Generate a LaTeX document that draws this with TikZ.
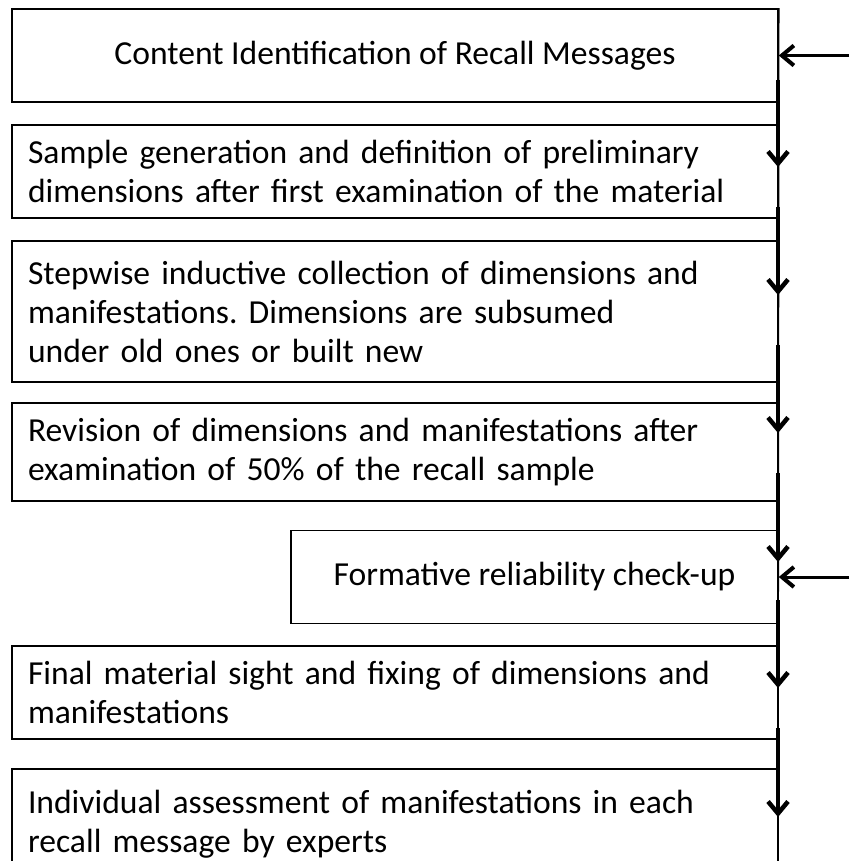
\documentclass[tikz,border=0pt]{standalone}
\usepackage{fontspec}
\setmainfont{Carlito}
\usetikzlibrary{arrows.meta}
\frenchspacing
\tikzset{
  box/.style={draw, line width=1.5pt, minimum width=766pt, minimum height=93pt,
    inner xsep=16pt, inner ysep=0pt, font=\fontsize{33.6}{39}\selectfont},
  lbox/.style={box, text width=734pt, align=left},
  trunk/.style={line width=1.5pt},
  flow/.style={line width=4pt, -{Straight Barb[length=12pt,width=20pt,line width=4.5pt]}},
  feed/.style={line width=3pt, -{Straight Barb[length=12pt,width=20pt,line width=4pt]}}
}
\begin{document}
\begin{tikzpicture}[x=1pt,y=-1pt]
\useasboundingbox (0,0) rectangle (849,861);
\begin{scope}
\clip (0,0) rectangle (849,861);
\node[box] (b1) at (395,55.5) {Content Identification of Recall Messages};
\node[lbox] (b2) at (395,171.5) {Sample generation and definition of preliminary\\dimensions after first examination of the material};
\node[lbox, minimum height=141pt] (b3) at (395,311.5) {Stepwise inductive collection of dimensions and\\manifestations. Dimensions are subsumed\\under old ones or built new};
\node[lbox, minimum height=98pt] (b4) at (395,452) {Revision of dimensions and manifestations after\\examination of 50\% of the recall sample};
\node[box, minimum width=487pt] (b5) at (534.5,577) {Formative reliability check-up};
\node[lbox, minimum height=110pt] (b7) at (395,824) {Individual assessment of manifestations in each\\recall message by experts};
\node[lbox] (b6) at (395,692.5) {Final material sight and fixing of dimensions and\\manifestations};
\coordinate (bottom) at (778,861);
\draw[trunk] (b1.north east) -- (bottom);
\coordinate (s1) at (778,80);  \coordinate (t1) at (778,167);
\coordinate (s2) at (778,207); \coordinate (t2) at (778,295);
\coordinate (s3) at (778,345); \coordinate (t3) at (778,433);
\coordinate (s4) at (778,473); \coordinate (t4) at (778,562);
\coordinate (s5) at (778,600); \coordinate (t5) at (778,688);
\coordinate (s6) at (778,728); \coordinate (t6) at (778,817);
\draw[flow] (s1) -- (t1);
\draw[flow] (s2) -- (t2);
\draw[flow] (s3) -- (t3);
\draw[flow] (s4) -- (t4);
\draw[flow] (s5) -- (t5);
\draw[flow] (s6) -- (t6);
\coordinate (in1) at (849,55.5);
\coordinate (in2) at (849,577);
\draw[feed] (in1) -- (b1.east);
\draw[feed] (in2) -- (b5.east);
\end{scope}
\end{tikzpicture}
\end{document}
